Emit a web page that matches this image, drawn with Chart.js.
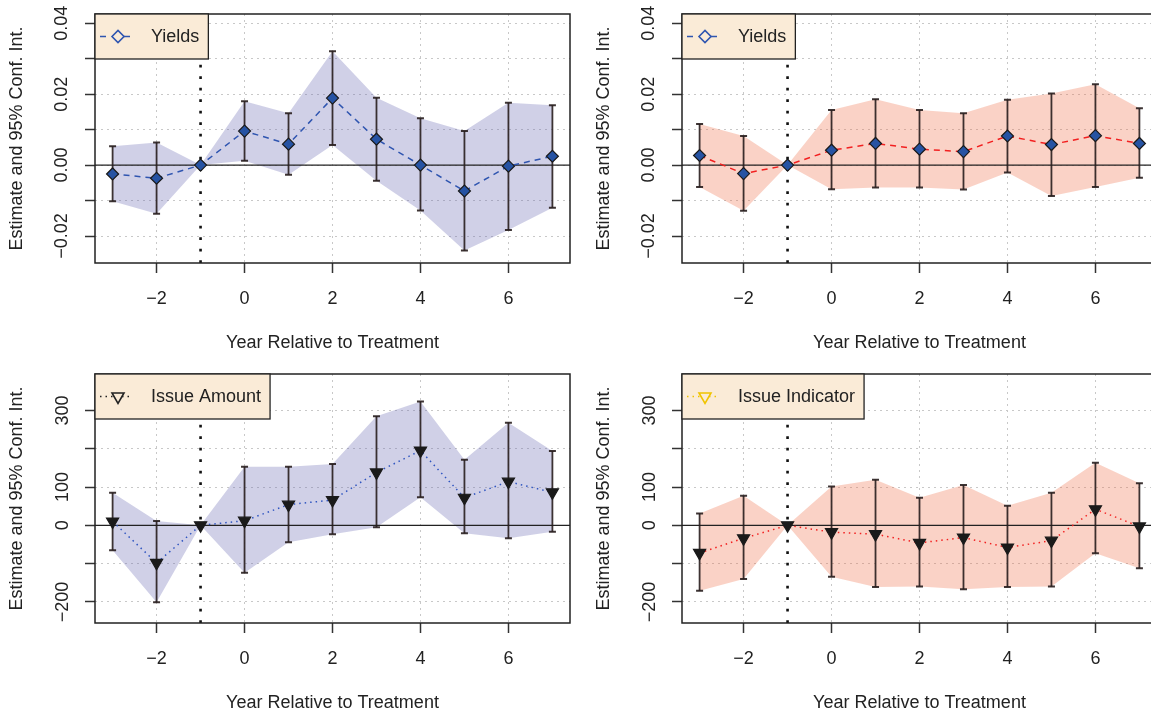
<!DOCTYPE html>
<html>
<head>
<meta charset="utf-8">
<script src="https://cdn.jsdelivr.net/npm/chart.js@4.4.1/dist/chart.umd.min.js"></script>
<style>
  body { margin: 0; width: 1151px; height: 713px; overflow: hidden; background: #fff; position: relative; }
  canvas { position: absolute; }
</style>
</head>
<body>
<canvas id="c1" width="580" height="356" style="left:0;top:0"></canvas>
<canvas id="c2" width="580" height="356" style="left:587px;top:0"></canvas>
<canvas id="c3" width="580" height="356" style="left:0;top:360px"></canvas>
<canvas id="c4" width="580" height="356" style="left:587px;top:360px"></canvas>
<script>
// annees relatives au traitement
const years = [-3, -2, -1, 0, 1, 2, 3, 4, 5, 6, 7];

// Yields (haut gauche)
const yieldsEstL = [-0.0025, -0.0037, 0, 0.0096, 0.0059, 0.0189, 0.0073, 0.0000, -0.0073, -0.0003, 0.0025];
const yieldsLoL = [-0.0102, -0.0137, 0, 0.0012, -0.0027, 0.0057, -0.0044, -0.0128, -0.0241, -0.0183, -0.0120];
const yieldsHiL = [0.0053, 0.0064, 0, 0.0180, 0.0146, 0.0321, 0.0190, 0.0132, 0.0096, 0.0176, 0.0169];

// Yields (haut droite)
const yieldsEstR = [0.0027, -0.0024, 0, 0.0042, 0.0061, 0.0045, 0.0038, 0.0082, 0.0058, 0.0083, 0.0061];
const yieldsLoR = [-0.0062, -0.0129, 0, -0.0068, -0.0063, -0.0063, -0.0069, -0.0021, -0.0087, -0.0062, -0.0036];
const yieldsHiR = [0.0116, 0.0082, 0, 0.0155, 0.0186, 0.0155, 0.0146, 0.0184, 0.0202, 0.0228, 0.0160];

// Issue Amount (bas gauche)
const amountEst = [10, -98, 0, 12, 54, 66, 138, 195, 72, 114, 86];
const amountLo = [-65, -201, 0, -124, -44, -23, -5, 73, -21, -34, -17];
const amountHi = [85, 11, 0, 153, 153, 160, 285, 323, 171, 268, 194];

// Issue Indicator (bas droite)
const indicEst = [-72, -34, 0, -18, -23, -46, -32, -58, -40, 42, -3];
const indicLo = [-171, -140, 0, -134, -161, -160, -167, -161, -160, -73, -112];
const indicHi = [31, 77, 0, 101, 119, 72, 105, 51, 85, 163, 110];

// graduations
const xTicks = [-2, 0, 2, 4, 6];
const xTickLabels = ["\u22122", "0", "2", "4", "6"];
const yieldTicks = [-0.02, -0.01, 0, 0.01, 0.02, 0.03, 0.04];
const yieldTickLabels = ["\u22120.02", "", "0.00", "", "0.02", "", "0.04"];
const countTicks = [-200, -100, 0, 100, 200, 300];
const countTickLabels = ["\u2212200", "", "0", "100", "", "300"];

const xTitle = "Year Relative to Treatment";
const yTitle = "Estimate and 95% Conf. Int.";
const treatYear = -1;

const FONT = "'Liberation Sans', Arial, Helvetica, sans-serif";
Chart.defaults.font.family = FONT;
Chart.defaults.font.size = 18;
Chart.defaults.color = "#222";

const blueBand = "rgba(102,102,178,0.31)";
const redBand = "rgba(240,110,70,0.31)";

// barres d'erreur + ligne 0 + ligne pointillee verticale, dessinees avant la courbe
const panelDecor = {
  id: "panelDecor",
  beforeDatasetDraw(chart, args) {
    if (args.index !== 2) return;
    const ctx = chart.ctx;
    const area = chart.chartArea;
    const xs = chart.scales.x;
    const ys = chart.scales.y;
    const p = chart.options.plugins.panelDecor;
    ctx.save();
    ctx.beginPath();
    ctx.rect(area.left, area.top, area.right - area.left, area.bottom - area.top);
    ctx.clip();
    // ligne horizontale a zero
    ctx.strokeStyle = "#222";
    ctx.lineWidth = 1.3;
    ctx.beginPath();
    ctx.moveTo(area.left, ys.getPixelForValue(0));
    ctx.lineTo(area.right, ys.getPixelForValue(0));
    ctx.stroke();
    // annee du traitement
    ctx.setLineDash([2.8, 8.7]);
    ctx.lineWidth = 2.6;
    ctx.strokeStyle = "#111";
    ctx.beginPath();
    ctx.moveTo(xs.getPixelForValue(treatYear), area.bottom);
    ctx.lineTo(xs.getPixelForValue(treatYear), area.top);
    ctx.stroke();
    ctx.setLineDash([]);
    // intervalles de confiance
    ctx.strokeStyle = "rgba(40,30,30,0.9)";
    for (let i = 0; i < years.length; i++) {
      if (p.lo[i] === p.hi[i]) continue;
      const x = xs.getPixelForValue(years[i]);
      const y1 = ys.getPixelForValue(p.lo[i]);
      const y2 = ys.getPixelForValue(p.hi[i]);
      ctx.lineWidth = 1.8;
      ctx.beginPath();
      ctx.moveTo(x, y1);
      ctx.lineTo(x, y2);
      ctx.stroke();
      ctx.lineWidth = 2;
      ctx.beginPath();
      ctx.moveTo(x - 3.5, y1);
      ctx.lineTo(x + 3.5, y1);
      ctx.moveTo(x - 3.5, y2);
      ctx.lineTo(x + 3.5, y2);
      ctx.stroke();
    }
    ctx.restore();
  },
  afterDatasetsDraw(chart) {
    const ctx = chart.ctx;
    const area = chart.chartArea;
    const p = chart.options.plugins.panelDecor;
    ctx.save();
    // cadre
    ctx.strokeStyle = "#222";
    ctx.lineWidth = 1.5;
    ctx.strokeRect(area.left, area.top, area.right - area.left, area.bottom - area.top);
    // legende
    ctx.font = "18px " + FONT;
    const w = 56 + ctx.measureText(p.legend).width + 9;
    const h = 45;
    const bx = area.left, by = area.top;
    ctx.fillStyle = "#FAEBD7";
    ctx.fillRect(bx, by, w, h);
    ctx.lineWidth = 1.3;
    ctx.strokeRect(bx, by, w, h);
    const cy = by + h / 2;
    ctx.strokeStyle = p.legendColor;
    ctx.lineWidth = 1.5;
    ctx.setLineDash(p.legendDash);
    ctx.beginPath();
    ctx.moveTo(bx + 5, cy);
    ctx.lineTo(bx + 37, cy);
    ctx.stroke();
    ctx.setLineDash([]);
    ctx.fillStyle = "#FAEBD7";
    ctx.lineWidth = 1.6;
    ctx.beginPath();
    const sx = bx + 23;
    if (p.legendSymbol === "diamond") {
      ctx.moveTo(sx - 6, cy); ctx.lineTo(sx, cy - 6); ctx.lineTo(sx + 6, cy); ctx.lineTo(sx, cy + 6);
    } else {
      ctx.moveTo(sx - 6, cy - 3.5); ctx.lineTo(sx + 6, cy - 3.5); ctx.lineTo(sx, cy + 7);
    }
    ctx.closePath();
    ctx.fill();
    ctx.stroke();
    ctx.fillStyle = "#222";
    ctx.textBaseline = "middle";
    ctx.fillText(p.legend, bx + 56, cy + 1);
    ctx.restore();
  }
};

function makePanel(id, opt) {
  const ctx = document.getElementById(id).getContext("2d");
  const line = {
    label: opt.legend,
    data: opt.est,
    order: 1,
    borderColor: opt.lineColor,
    borderWidth: 1.5,
    borderDash: opt.dash,
    fill: false,
    pointStyle: opt.marker,
    pointRotation: opt.marker === "triangle" ? 180 : 0,
    pointRadius: opt.marker === "triangle" ? 7 : 6,
    pointBackgroundColor: opt.markerFill,
    pointBorderColor: "#1a1a1a",
    pointBorderWidth: 1.2
  };
  return new Chart(ctx, {
    type: "line",
    data: {
      labels: years,
      datasets: [
        { data: opt.hi, order: 2, borderWidth: 0, pointRadius: 0, fill: "+1", backgroundColor: opt.band },
        { data: opt.lo, order: 3, borderWidth: 0, pointRadius: 0, fill: false },
        line
      ]
    },
    plugins: [panelDecor],
    options: {
      responsive: false,
      animation: false,
      layout: { padding: { top: 14, right: 10, left: 0, bottom: 0 } },
      plugins: {
        legend: { display: false },
        tooltip: { enabled: false },
        panelDecor: {
          lo: opt.lo, hi: opt.hi, legend: opt.legend,
          legendColor: opt.legendColor, legendDash: opt.legendDash, legendSymbol: opt.legendSymbol
        }
      },
      scales: {
        x: {
          type: "linear",
          min: -3.4,
          max: 7.4,
          afterBuildTicks: (s) => { s.ticks = xTicks.map((v) => ({ value: v })); },
          afterFit: (s) => { s.height = 93; },
          ticks: {
            autoSkip: false,
            maxRotation: 0,
            padding: 15,
            callback: (v) => xTickLabels[xTicks.indexOf(v)]
          },
          grid: { color: "#c8c8c8", lineWidth: 1, tickColor: "#333", tickLength: 10, tickWidth: 1.5 },
          border: { display: false, dash: [2, 4] },
          title: { display: true, text: xTitle, padding: { top: 0, bottom: 2 } }
        },
        y: {
          type: "linear",
          min: opt.ymin,
          max: opt.ymax,
          afterBuildTicks: (s) => { s.ticks = opt.yTicks.map((v) => ({ value: v })); },
          afterFit: (s) => { s.width = 95; },
          ticks: {
            autoSkip: false,
            minRotation: 90,
            maxRotation: 90,
            crossAlign: "center",
            padding: opt.yPad,
            callback: (v) => opt.yLabels[opt.yTicks.indexOf(v)]
          },
          grid: { color: "#c8c8c8", lineWidth: 1, tickColor: "#333", tickLength: 10, tickWidth: 1.5 },
          border: { display: false, dash: [2, 4] },
          title: { display: true, text: yTitle, padding: { top: 6, bottom: 0 } }
        }
      }
    }
  });
}

// convertir en points {x,y}
function pts(arr) {
  return arr.map((v, i) => ({ x: years[i], y: v }));
}

makePanel("c1", {
  est: pts(yieldsEstL), lo: yieldsLoL, hi: yieldsHiL, band: blueBand,
  lineColor: "#2F55B0", dash: [6, 5], marker: "rectRot", markerFill: "#2653A3",
  legend: "Yields", legendColor: "#2F55B0", legendDash: [6, 6], legendSymbol: "diamond",
  ymin: -0.0276, ymax: 0.0426, yTicks: yieldTicks, yLabels: yieldTickLabels, yPad: 0
});
makePanel("c2", {
  est: pts(yieldsEstR), lo: yieldsLoR, hi: yieldsHiR, band: redBand,
  lineColor: "#F22020", dash: [6, 5], marker: "rectRot", markerFill: "#2653A3",
  legend: "Yields", legendColor: "#2F55B0", legendDash: [6, 6], legendSymbol: "diamond",
  ymin: -0.0276, ymax: 0.0426, yTicks: yieldTicks, yLabels: yieldTickLabels, yPad: 0
});
makePanel("c3", {
  est: pts(amountEst), lo: amountLo, hi: amountHi, band: blueBand,
  lineColor: "#2F55C0", dash: [1.5, 4], marker: "triangle", markerFill: "#1a1a1a",
  legend: "Issue Amount", legendColor: "#222", legendDash: [1.5, 4], legendSymbol: "triangle",
  ymin: -255, ymax: 395, yTicks: countTicks, yLabels: countTickLabels, yPad: 2
});
makePanel("c4", {
  est: pts(indicEst), lo: indicLo, hi: indicHi, band: redBand,
  lineColor: "#F22020", dash: [1.5, 4], marker: "triangle", markerFill: "#1a1a1a",
  legend: "Issue Indicator", legendColor: "#F0C400", legendDash: [1.5, 4], legendSymbol: "triangle",
  ymin: -255, ymax: 395, yTicks: countTicks, yLabels: countTickLabels, yPad: 2
});
</script>
</body>
</html>
